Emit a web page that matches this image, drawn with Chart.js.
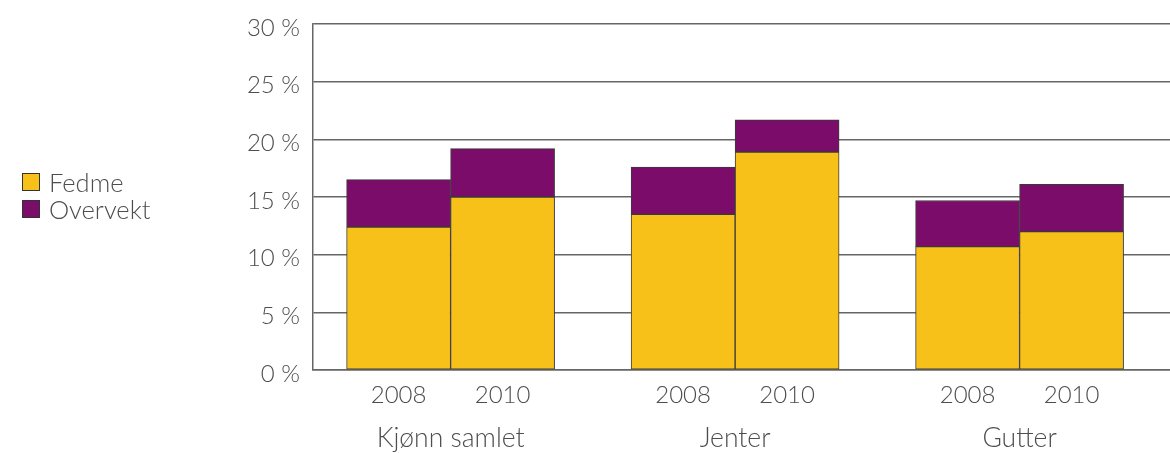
<!DOCTYPE html>
<html><head><meta charset="utf-8">
<script src="https://cdn.jsdelivr.net/npm/chart.js@4"></script>
<style>
html,body{margin:0;padding:0;background:#fff;}
#wrap{position:relative;width:1170px;height:453px;}
#legend{position:absolute;left:22px;top:168px;font-family:Lato,"DejaVu Sans",sans-serif;font-weight:300;font-size:25.5px;color:#4d4d4d;}
.item{display:flex;align-items:center;height:27px;white-space:nowrap;}
.box{width:18px;height:18px;border:1px solid #333;margin-right:9px;box-sizing:border-box;}
</style></head><body>
<div id="wrap"><canvas id="c"></canvas><div id="legend"></div></div>
<script>
const groups = ['Kjønn samlet', 'Jenter', 'Gutter'];
const years = ['2008', '2010'];
const seriesNames = ['Fedme', 'Overvekt'];
const seriesColors = ['#F8C119', '#7B0C69'];
const fedme2008 = [12.4, 13.5, 10.7];
const overvekt2008 = [4.1, 4.1, 4.0];
const fedme2010 = [15.0, 18.9, 12.0];
const overvekt2010 = [4.2, 2.8, 4.1];
const yTicks = [0, 5, 10, 15, 20, 25, 30];

const FONT = 'Lato, "DejaVu Sans", sans-serif';
const TEXT = '#4d4d4d';

function pts(arr){ return arr.map((v,i)=>({x:i, y:v})); }

const datasets = [
  {label: seriesNames[0], stack: years[0], data: pts(fedme2008), backgroundColor: seriesColors[0]},
  {label: seriesNames[1], stack: years[0], data: pts(overvekt2008), backgroundColor: seriesColors[1]},
  {label: seriesNames[0], stack: years[1], data: pts(fedme2010), backgroundColor: seriesColors[0]},
  {label: seriesNames[1], stack: years[1], data: pts(overvekt2010), backgroundColor: seriesColors[1]}
].map(d => Object.assign(d, {borderColor:'#3a3a3a', borderWidth:1, borderSkipped:false, barThickness:104}));

// legend
const lg = document.getElementById('legend');
seriesNames.forEach((n,i)=>{
  const it = document.createElement('div'); it.className='item';
  const b = document.createElement('span'); b.className='box'; b.style.background = seriesColors[i];
  const t = document.createElement('span'); t.textContent = n;
  it.appendChild(b); it.appendChild(t); lg.appendChild(it);
});

const xLabels = {
  id: 'xLabels',
  afterDraw(chart){
    const ctx = chart.ctx, area = chart.chartArea;
    ctx.save();
    ctx.fillStyle = TEXT; ctx.textAlign = 'center'; ctx.textBaseline = 'alphabetic';
    ctx.font = '300 24px ' + FONT;
    [0, 2].forEach((di, yi) => {
      chart.getDatasetMeta(di).data.forEach(el => ctx.fillText(years[yi], el.x, area.bottom + 33));
    });
    ctx.font = '300 26.5px ' + FONT;
    groups.forEach((g, i) => ctx.fillText(g, chart.scales.x.getPixelForValue(i), area.bottom + 77));
    ctx.restore();
  }
};

new Chart(document.getElementById('c'), {
  type: 'bar',
  data: { datasets },
  plugins: [xLabels],
  options: {
    responsive: true, maintainAspectRatio: false, animation: false,
    layout: { padding: { top: 24, bottom: 83, left: 0, right: 0 } },
    plugins: { legend: { display: false }, tooltip: { enabled: false } },
    scales: {
      x: {
        type: 'linear', min: -0.4837, max: 2.5287, offset: false,
        grid: { display: false, drawTicks: false, offset: false },
        ticks: { display: false },
        border: { display: true, color: '#666', width: 1.5 }
      },
      y: {
        stacked: true, min: 0, max: 30,
        afterBuildTicks: s => { s.ticks = yTicks.map(v => ({value: v})); },
        afterFit: s => { s.width = 313; s.paddingTop = 0; s.paddingBottom = 0; },
        ticks: { callback: v => v + ' %', color: TEXT, padding: 13, labelOffset: 4, font: { family: FONT, size: 24, weight: 300 } },
        grid: { color: '#666', lineWidth: 1.5, drawTicks: false },
        border: { display: true, color: '#666', width: 1.5 }
      }
    }
  }
});
</script>
</body></html>
